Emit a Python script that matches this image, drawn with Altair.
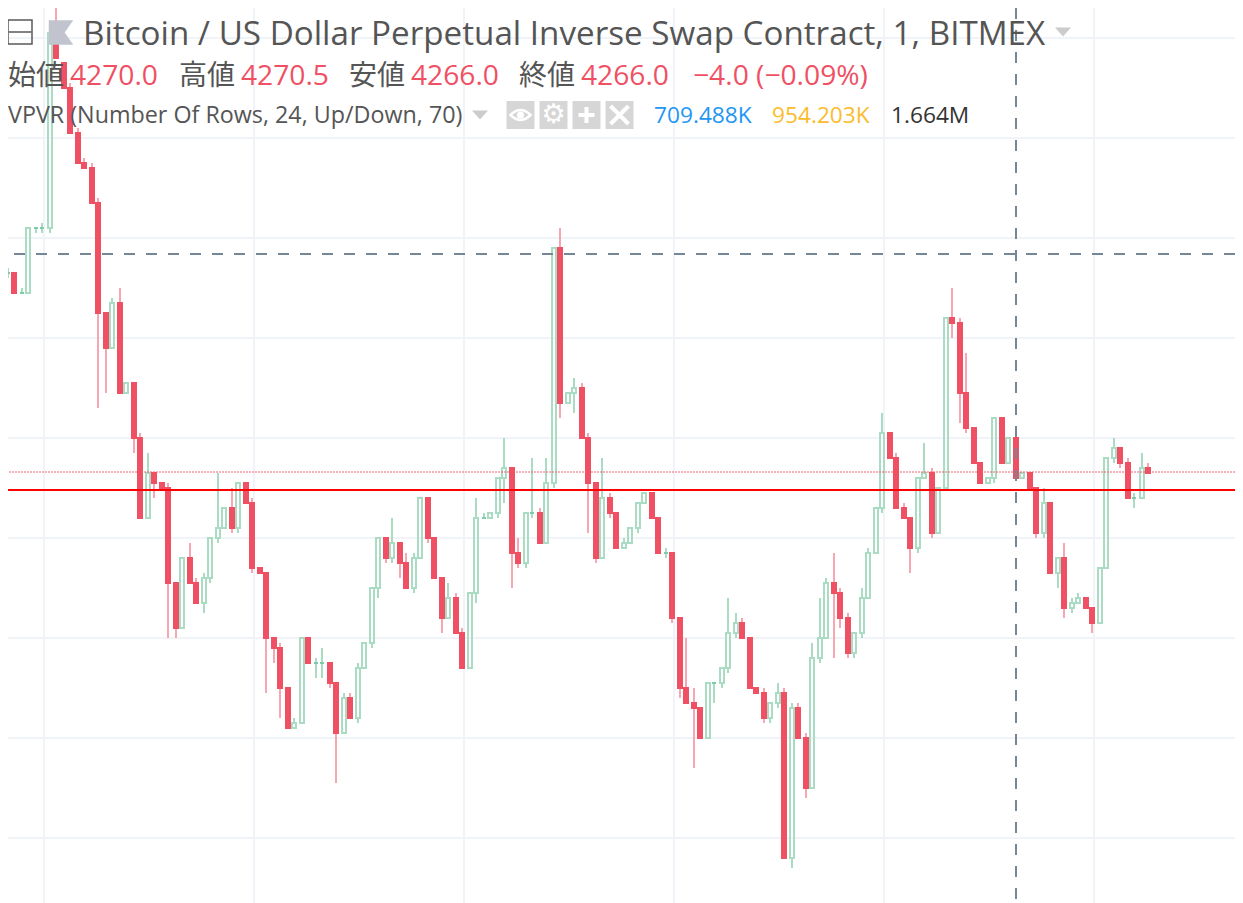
import altair as alt
import pandas as pd

BASE = 4270.0
opens = [16,16.5,16.5,14.5,14.5,21,21,21,40.5,37.5,
 35,30.5,27.5,27,23.5,12.5,9,13.5,4.5,5.5,
 0,-8,-3.5,-4.5,-5,-14.5,-19,-12,-14.5,-16.5,
 -14,-10,-9,-7,-9,-4.5,-6.5,-13,-13.5,-20,
 -21,-25,-29,-28.5,-20,-22.5,-22.5,-22.5,-24.5,-29.5,
 -26,-28,-23,-20.5,-15,-10,-12,-10.5,-12.5,-15,
 -12,-6,-10,-14,-18,-16,-19.5,-23,-15.5,-8,
 -8,-7.5,-4,-3,-11.5,-12.5,-7.5,-7.5,-10.5,-4.5,
 19,3.5,4.5,5,0,-4.5,-12,-6,-7.5,-11,
 -10.5,-9,-6.5,-5.5,-8,-11.5,-11.5,-18,-25,-26.5,
 -27,-30,-24.5,-24.5,-23,-19.5,-18.5,-20,-25,-25.5,
 -28,-26.5,-25.5,-42,-27,-30,-35,-22,-20,-14.5,
 -15.5,-18,-21.5,-19.5,-16,-11.5,-7,0.5,-2,-7,
 -8,-11,-4,-3.5,-9.5,-5,12,11.5,4.5,1,
 -2.5,-4.5,-4,2,-2.5,0,-4,-3.5,-5,-9.5,
 -6.5,-13.5,-12,-17,-16.5,-16,-17,-18.5,-13,-2,
 -1,-2.5,-6,-6,-3]
closes = [16.5,16.5,14.5,14.5,21,21,21,40.5,38,35,
 30.5,27.5,27,23.5,12.5,9,13.5,4.5,5.5,0,
 -8,-3.5,-4.5,-5,-14.5,-19,-12,-14.5,-16.5,-14,
 -10,-9,-7,-9,-4.5,-6.5,-13,-13.5,-20,-21,
 -25,-29,-28.5,-20,-22.5,-22.5,-22.5,-24.5,-29.5,-26,
 -28,-23,-20.5,-15,-10,-12,-10.5,-12.5,-15,-12,
 -6,-10,-14,-18,-16,-19.5,-23,-15.5,-8,-8,
 -7.5,-4,-3,-11.5,-12.5,-7.5,-7.5,-10.5,-4.5,19,
 3.5,4.5,5,0,-4.5,-12,-6,-7.5,-11,-10.5,
 -9,-6.5,-5.5,-8,-11.5,-11.5,-18,-25,-26.5,-27,
 -30,-24.5,-24.5,-23,-19.5,-18.5,-20,-25,-25.5,-28,
 -26.5,-25.5,-42,-27,-30,-35,-22,-20,-14.5,-15.5,
 -18,-21.5,-19.5,-16,-11.5,-7,0.5,-2,-7,-8,
 -11,-4,-3.5,-9.5,-5,12,11.5,4.5,1,-2.5,
 -4.5,-4,2,-2.5,0,-4,-3.5,-5,-9.5,-6.5,
 -13.5,-12,-17,-16.5,-16,-17,-18.5,-13,-2,-1,
 -2.5,-6,-6,-3,-3.5]
highs = [17,17,16.5,15,21,21,21.5,40.5,45,37.5,
 35.5,31,28,27.5,24,12.5,14,15,5.5,5.5,
 0.5,-1.5,-3.5,-4.5,-4.5,-14.5,-12,-10.5,-14,-13.5,
 -10,-3.5,-7,-5,-4.5,-4.5,-6,-13,-13.5,-20,
 -20.5,-25,-28,-20,-20,-22,-21,-22.5,-24.5,-25.5,
 -25.5,-22.5,-20.5,-15,-10,-10,-8,-10.5,-11.5,-11.5,
 -6,-6,-10,-14,-14.5,-15.5,-19,-15.5,-6,-7.5,
 -7.5,-4,0,-3,-10,-7.5,-2,-7,-2,19,
 21,4.5,6,5.5,0.5,-4.5,-2,-5.5,-7.5,-10,
 -9,-6.5,-5.5,-5.5,-8,-11,-11.5,-18,-20,-25,
 -27,-24.5,-24.5,-23,-16,-17.5,-18,-20,-25,-25,
 -26.5,-24.5,-25,-26.5,-26.5,-29.5,-20.5,-16,-14,-11.5,
 -15,-17.5,-19.5,-15,-11,-7,2.5,0.5,-1.5,-6.5,
 -8,-4,-0.5,-3,-5,12,15,12,8.5,1,
 -2.5,-4,2,2,0,0.5,-3.5,-3.5,-5,-5,
 -6.5,-12,-10.5,-16,-15.5,-16,-17,-13,-2,0,
 -1,-2,-5.5,-1.5,-2.5]
lows = [16,16,14.5,14.5,14.5,20.5,20.5,20.5,38,35,
 30.5,27.5,27,23.5,3,4.5,9,4.5,4.5,-1.5,
 -8,-8,-6,-5,-20,-20,-19,-14.5,-16.5,-17.5,
 -14.5,-10.5,-9,-9.5,-9.5,-6.5,-13.5,-13.5,-25.5,-22.5,
 -28,-29,-29,-28.5,-22.5,-24,-24,-25,-34.5,-29.5,
 -28,-28.5,-23,-21,-16,-12.5,-12.5,-14,-15,-15.5,
 -12,-10.5,-14,-19.5,-18,-19.5,-23,-23,-16.5,-8,
 -8,-8,-6.5,-15,-13,-13,-8,-10.5,-10.5,-5,
 2,3.5,2.5,0,-9.5,-12.5,-12,-8,-11,-11,
 -10.5,-9.5,-6.5,-8,-11.5,-12,-18.5,-26,-26.5,-33,
 -30,-30,-26.5,-25,-23.5,-20,-20,-25,-25.5,-28.5,
 -28.5,-27,-42,-43,-30,-36,-35,-22.5,-20,-22,
 -19,-22,-22,-20,-16,-11.5,-7.5,-2,-7,-8,
 -13.5,-11.5,-4,-10,-9.5,-5,10,1.5,0.5,-2.5,
 -4.5,-4.5,-4.5,-2.5,-2.5,-4,-4,-5,-10,-10,
 -13.5,-15,-18,-17.5,-16.5,-17,-19.5,-18.5,-13,-2.5,
 -3,-6,-7,-6,-3.5]

grid_prices = [4310, 4300, 4290, 4280, 4270, 4260, 4250, 4240, 4230]
grid_bars = [44/7, 254/7, 464/7, 674/7, 884/7, 1094/7]
last_price = 4266.6
ref_price = 4264.8
cross_price = 4288.4
cross_bar = 145

TITLE_FONT = "Open Sans"
CJK_FONT = "Noto Sans CJK JP"
RED = "#ef5064"
GREEN = "#a9dcc3"
RED_W = "#f7a7b2"
GREY = "#555555"

df = pd.DataFrame({"bar": list(range(len(opens))), "o": opens, "h": highs, "l": lows, "c": closes})
for col in "ohlc":
    df[col] = df[col] + BASE
df["top"] = df[["o", "c"]].max(axis=1)
df["bot"] = df[["o", "c"]].min(axis=1)
# candles in the picture snap to whole pixels, so odd bars sit one pixel to the right
df["pos"] = df["bar"] + (df["bar"] % 2) / 7

xs = alt.Scale(domain=[8/7, 1235/7], nice=False, zero=False, padding=0)
ys = alt.Scale(domain=[4223.5, 4313], nice=False, zero=False, padding=0)
X = alt.X("pos:Q", scale=xs, axis=None)

grid_h = alt.Chart(pd.DataFrame({"p": grid_prices})).mark_rule(color="#f0f3f7", strokeWidth=2).encode(
    y=alt.Y("p:Q", scale=ys, axis=None))
grid_v = alt.Chart(pd.DataFrame({"pos": grid_bars})).mark_rule(color="#f0f3f7", strokeWidth=2).encode(x=X)


def wicks(sub, color):
    d = df[sub]
    a = alt.Chart(d[d.h > d.top]).mark_rule(color=color, strokeWidth=2, clip=True).encode(
        x=X, y=alt.Y("h:Q", scale=ys, axis=None), y2="top:Q")
    b = alt.Chart(d[d.l < d.bot]).mark_rule(color=color, strokeWidth=2, clip=True).encode(
        x=X, y=alt.Y("bot:Q", scale=ys, axis=None), y2="l:Q")
    return [a, b]


hollow = alt.Chart(df[df.c > df.o]).mark_bar(size=4, stroke=GREEN, strokeWidth=2, fillOpacity=0, clip=True).encode(
    x=X, y=alt.Y("o:Q", scale=ys, axis=None), y2="c:Q")
filled = alt.Chart(df[df.c < df.o]).mark_bar(size=4, color=RED, stroke=RED, strokeWidth=2, clip=True).encode(
    x=X, y=alt.Y("o:Q", scale=ys, axis=None), y2="c:Q")
doji = alt.Chart(df[df.c == df.o]).mark_tick(orient="horizontal", size=4, thickness=2, color="#7fcba8", opacity=1, clip=True).encode(
    x=X, y=alt.Y("o:Q", scale=ys, axis=None))


def hline(v, **kw):
    return alt.Chart(pd.DataFrame({"p": [v]})).mark_rule(**kw).encode(y=alt.Y("p:Q", scale=ys, axis=None))


last_line = hline(last_price, color=RED, strokeWidth=2, strokeDash=[2, 1], opacity=0.45)
ref_line = hline(ref_price, color="#ff0000", strokeWidth=2)
cross_h = hline(cross_price, color="#758696", strokeWidth=2, strokeDash=[11, 11])
cross_v = alt.Chart(pd.DataFrame({"pos": [cross_bar + 1/7]})).mark_rule(
    color="#758696", strokeWidth=2, strokeDash=[11, 11]).encode(x=X)


def txt(s, x, y, size, color=GREY, font=TITLE_FONT):
    return alt.Chart(pd.DataFrame({"t": [s]})).mark_text(
        align="left", baseline="alphabetic", fontSize=size, font=font, color=color
    ).encode(x=alt.value(x - 8), y=alt.value(y - 8), text="t:N")


def sym(shape, x, y, size, **kw):
    return alt.Chart(pd.DataFrame({"s": [0]})).mark_point(shape=shape, size=size, **kw).encode(
        x=alt.value(x - 8), y=alt.value(y - 8))


TRI = "M-1,-0.55L1,-0.55L0,0.55Z"
FLAG = "M-1,-1L1,-1L0.3,0L1,1L-1,1Z"
legend = [
    sym("square", 20, 32, 576, filled=False, stroke="#5a5a5a", strokeWidth=1.5, opacity=1),
    sym("M-1,0L1,0", 20, 32, 529, filled=False, stroke="#5a5a5a", strokeWidth=1.5, opacity=1),
    sym(FLAG, 61, 32.5, 600, filled=True, fill="#c1c4cf", opacity=1, strokeWidth=0),
    txt("Bitcoin / US Dollar Perpetual Inverse Swap Contract, 1, BITMEX", 83, 45, 33.2),
    sym(TRI, 1063, 32, 256, filled=True, fill="#cccccc", opacity=1, strokeWidth=0),
    txt("始値", 8, 85, 28, font=CJK_FONT),
    txt("4270.0", 70, 85, 28.2, RED),
    txt("高値", 179, 85, 28, font=CJK_FONT),
    txt("4270.5", 241, 85, 28.2, RED),
    txt("安値", 349, 85, 28, font=CJK_FONT),
    txt("4266.0", 411, 85, 28.2, RED),
    txt("終値", 519, 85, 28, font=CJK_FONT),
    txt("4266.0", 581, 85, 28.2, RED),
    txt("−4.0 (−0.09%)", 693, 85, 28.2, RED),
    txt("VPVR (Number Of Rows, 24, Up/Down, 70)", 8, 123, 23.3),
    sym(TRI, 480, 115, 256, filled=True, fill="#cccccc", opacity=1, strokeWidth=0),
]
for cx in (520.5, 553.5, 586.5, 619.5):
    legend.append(sym("square", cx, 115, 784, filled=True, fill="#d6d6d6", opacity=1, strokeWidth=0))
legend += [
    sym("M-1,0Q0,-1 1,0Q0,1 -1,0Z", 520.5, 115, 400, filled=False, stroke="white", strokeWidth=2.5, opacity=1),
    sym("circle", 520.5, 115, 50, filled=True, fill="white", opacity=1, strokeWidth=0),
    alt.Chart(pd.DataFrame({"t": ["⚙"]})).mark_text(
        align="center", baseline="middle", fontSize=27, font="DejaVu Sans", color="white"
    ).encode(x=alt.value(553.5 - 8), y=alt.value(115 - 8), text="t:N"),
    sym("M-1,0L1,0M0,-1L0,1", 586.5, 115, 256, filled=False, stroke="white", strokeWidth=4, opacity=1),
    sym("M-1,-1L1,1M-1,1L1,-1", 619.5, 115, 324, filled=False, stroke="white", strokeWidth=4, opacity=1),
    txt("709.488K", 654, 123, 22.7, "#2196f3"),
    txt("954.203K", 772, 123, 22.7, "#fbbc2c"),
    txt("1.664M", 891, 123, 22.7, "#333333"),
]

layers = [grid_h, grid_v] + wicks(df.c >= df.o, GREEN) + wicks(df.c < df.o, RED_W) + [
    hollow, filled, doji, last_line, ref_line, cross_h, cross_v] + legend

chart = alt.layer(*layers).properties(
    width=1227, height=895, padding=0,
    autosize=alt.AutoSizeParams(type="none"),
    background="white",
).configure_view(stroke=None)

chart.save("out.html", embed_options={"renderer": "svg", "actions": False})
